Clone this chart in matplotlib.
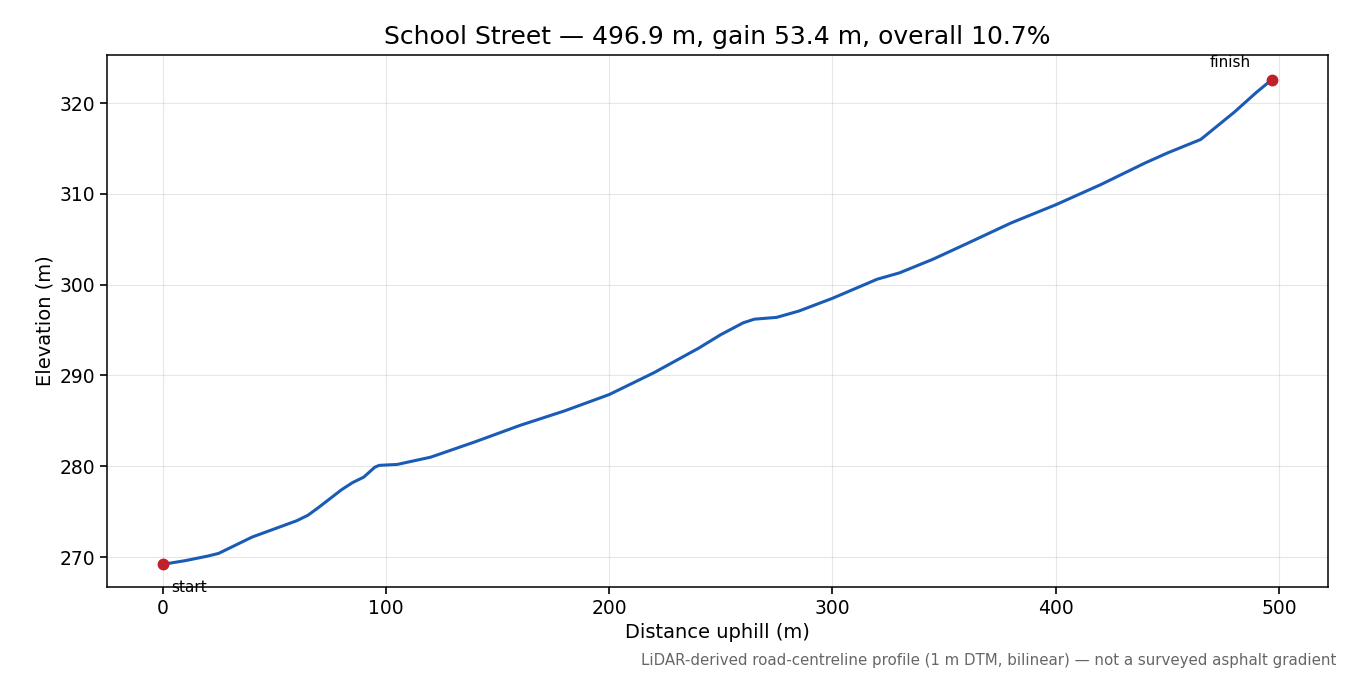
import matplotlib
matplotlib.use("Agg")
import matplotlib.pyplot as plt
import numpy as np

# Profile (distance m, elevation m)
distance = [0, 10, 20, 25, 35, 40, 50, 60, 65, 70, 80, 85, 90, 95, 97, 105,
            120, 140, 160, 180, 200, 220, 240, 250, 260, 265, 275, 285, 300,
            320, 330, 345, 360, 380, 400, 420, 440, 450, 460, 465, 470, 480,
            490, 496.9]
elevation = [269.2, 269.6, 270.1, 270.4, 271.6, 272.2, 273.1, 274.0, 274.6,
             275.5, 277.4, 278.2, 278.8, 279.9, 280.1, 280.2, 281.0, 282.7,
             284.5, 286.1, 287.9, 290.3, 293.0, 294.5, 295.8, 296.2, 296.4,
             297.1, 298.5, 300.6, 301.3, 302.8, 304.5, 306.8, 308.8, 311.0,
             313.4, 314.5, 315.5, 316.0, 317.0, 319.0, 321.2, 322.6]

fig = plt.figure(figsize=(13.5, 6.75), dpi=100)
ax = fig.add_axes([107 / 1350, 1 - 587 / 675, (1328 - 107) / 1350, (587 - 55) / 675])

ax.plot(distance, elevation, color="#1a5cb5", linewidth=2.2)
ax.plot([distance[0], distance[-1]], [elevation[0], elevation[-1]], "o",
        color="#c0202a", markersize=7.5)
ax.annotate("start", (distance[0], elevation[0]), xytext=(6, -20),
            textcoords="offset points", fontsize=11)
ax.annotate("finish", (distance[-1], elevation[-1]), xytext=(-45, 9),
            textcoords="offset points", fontsize=11)

ax.set_xlim(-25, 522)
ax.set_ylim(266.7, 325.3)
ax.set_xticks([0, 100, 200, 300, 400, 500])
ax.set_yticks([270, 280, 290, 300, 310, 320])
ax.tick_params(labelsize=13.5, width=1.2, length=5)
for s in ax.spines.values():
    s.set_linewidth(1.1)
ax.grid(True, alpha=0.3)
ax.set_xlabel("Distance uphill (m)", fontsize=14)
ax.set_ylabel("Elevation (m)", fontsize=14)
ax.set_title("School Street — 496.9 m, gain 53.4 m, overall 10.7%", fontsize=18, pad=8)
fig.text(1336 / 1350, 1 - 660 / 675,
         "LiDAR-derived road-centreline profile (1 m DTM, bilinear) — not a surveyed asphalt gradient",
         ha="right", va="center", fontsize=10.8, color="#666666")

fig.savefig("out.png", dpi=100)
